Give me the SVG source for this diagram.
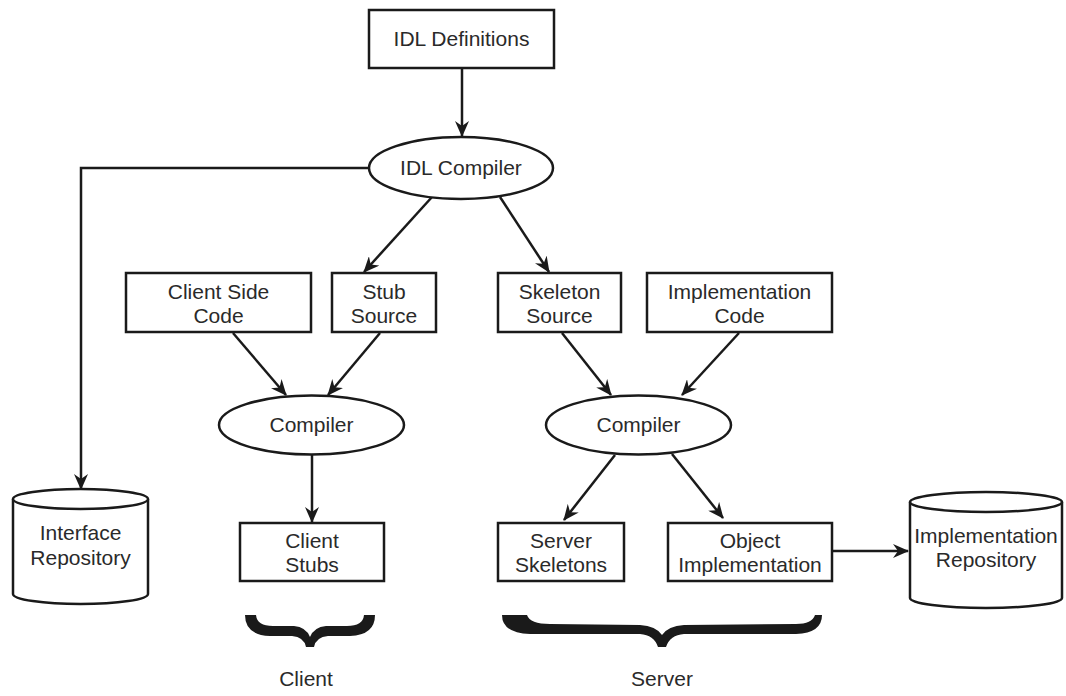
<svg xmlns="http://www.w3.org/2000/svg" width="1066" height="696" viewBox="0 0 1066 696">
  <style>
    .box { fill: #ffffff; stroke: #1a1a1a; stroke-width: 2.5; }
    .edge { fill: none; stroke: #1a1a1a; stroke-width: 2.5; }
    .lbl { font-family: "Liberation Sans", Arial, sans-serif; font-size: 21px; fill: #2a2a2a; text-anchor: middle; }
    .brace { fill: #1a1a1a; stroke: none; }
  </style>
  <defs>
    <marker id="arrow" viewBox="0 0 16 14" refX="15" refY="7" markerWidth="16" markerHeight="14" markerUnits="userSpaceOnUse" orient="auto">
      <path d="M0,0 L16,7 L0,14 L5,7 Z" fill="#1a1a1a"/>
    </marker>
  </defs>
  <rect width="1066" height="696" fill="#ffffff"/>

  <!-- connectors -->
  <g id="connectors">
    <line class="edge" x1="462" y1="68" x2="462" y2="136" marker-end="url(#arrow)"/>
    <polyline class="edge" points="369,168 81,168 81,489" marker-end="url(#arrow)"/>
    <line class="edge" x1="432" y1="197" x2="364" y2="272" marker-end="url(#arrow)"/>
    <line class="edge" x1="500" y1="197" x2="549" y2="272" marker-end="url(#arrow)"/>
    <line class="edge" x1="233" y1="333" x2="286" y2="395" marker-end="url(#arrow)"/>
    <line class="edge" x1="380" y1="333" x2="328" y2="395" marker-end="url(#arrow)"/>
    <line class="edge" x1="562" y1="333" x2="611" y2="395" marker-end="url(#arrow)"/>
    <line class="edge" x1="739" y1="333" x2="682" y2="395" marker-end="url(#arrow)"/>
    <line class="edge" x1="312" y1="454" x2="312" y2="522" marker-end="url(#arrow)"/>
    <line class="edge" x1="615" y1="455" x2="564" y2="520" marker-end="url(#arrow)"/>
    <line class="edge" x1="672" y1="454" x2="723" y2="518" marker-end="url(#arrow)"/>
    <line class="edge" x1="832" y1="551" x2="908" y2="551" marker-end="url(#arrow)"/>
  </g>

  <g id="idl-definitions">
    <rect class="box" x="369" y="10" width="185" height="58"/>
    <text class="lbl" x="461.5" y="46">IDL Definitions</text>
  </g>

  <g id="idl-compiler">
    <ellipse class="box" cx="461" cy="168" rx="92" ry="31"/>
    <text class="lbl" x="461" y="175">IDL Compiler</text>
  </g>

  <g id="interface-repository">
    <path class="box" d="M13,499 L13,594 A67.5,10 0 0 0 148,594 L148,499"/>
    <ellipse class="box" cx="80.5" cy="499" rx="67.5" ry="10"/>
    <text class="lbl" x="80.5" y="540">Interface</text>
    <text class="lbl" x="80.5" y="565">Repository</text>
  </g>

  <g id="client-side-code">
    <rect class="box" x="126" y="273" width="185" height="59"/>
    <text class="lbl" x="218.5" y="299">Client Side</text>
    <text class="lbl" x="218.5" y="323">Code</text>
  </g>

  <g id="stub-source">
    <rect class="box" x="332" y="273" width="104" height="59"/>
    <text class="lbl" x="384" y="299">Stub</text>
    <text class="lbl" x="384" y="323">Source</text>
  </g>

  <g id="skeleton-source">
    <rect class="box" x="498" y="273" width="123" height="59"/>
    <text class="lbl" x="559.5" y="299">Skeleton</text>
    <text class="lbl" x="559.5" y="323">Source</text>
  </g>

  <g id="implementation-code">
    <rect class="box" x="647" y="273" width="185" height="59"/>
    <text class="lbl" x="739.5" y="299">Implementation</text>
    <text class="lbl" x="739.5" y="323">Code</text>
  </g>

  <g id="client-compiler">
    <ellipse class="box" cx="311.5" cy="425" rx="92.5" ry="29.5"/>
    <text class="lbl" x="311.5" y="432">Compiler</text>
  </g>

  <g id="server-compiler">
    <ellipse class="box" cx="638.5" cy="425" rx="92.5" ry="29.5"/>
    <text class="lbl" x="638.5" y="432">Compiler</text>
  </g>

  <g id="client-stubs">
    <rect class="box" x="240" y="523" width="144" height="58"/>
    <text class="lbl" x="312" y="548">Client</text>
    <text class="lbl" x="312" y="572">Stubs</text>
  </g>

  <g id="server-skeletons">
    <rect class="box" x="498" y="523" width="126" height="58"/>
    <text class="lbl" x="561" y="548">Server</text>
    <text class="lbl" x="561" y="572">Skeletons</text>
  </g>

  <g id="object-implementation">
    <rect class="box" x="668" y="523" width="164" height="58"/>
    <text class="lbl" x="750" y="548">Object</text>
    <text class="lbl" x="750" y="572">Implementation</text>
  </g>

  <g id="implementation-repository">
    <path class="box" d="M910,502 L910,598 A76,10 0 0 0 1062,598 L1062,502"/>
    <ellipse class="box" cx="986" cy="502" rx="76" ry="10"/>
    <text class="lbl" x="986" y="543">Implementation</text>
    <text class="lbl" x="986" y="567">Repository</text>
  </g>

  <!-- grouping braces -->
  <g id="client-group">
    <path class="brace" d="M245,615 L256,615 Q257,626 273,626 L294,626 Q306,627 310,637 Q314,627 326,626 L347,626 Q363,626 364,615 L375,615 Q375,635 350,636 L328,636 Q316,637 314,647 L306,647 Q304,637 292,636 L270,636 Q245,635 245,615 Z"/>
    <text class="lbl" x="306" y="686">Client</text>
  </g>

  <g id="server-group">
    <path class="brace" d="M502,615 L527,615 Q530,624 550,624 L640,625 Q656,626 662,635 Q668,626 684,625 L796,624 Q812,624 815,615 L822,615 Q822,633 796,634 L684,634 Q670,635 666,647 L658,647 Q654,635 640,634 L530,634 Q502,633 502,615 Z"/>
    <text class="lbl" x="662" y="686">Server</text>
  </g>
</svg>
